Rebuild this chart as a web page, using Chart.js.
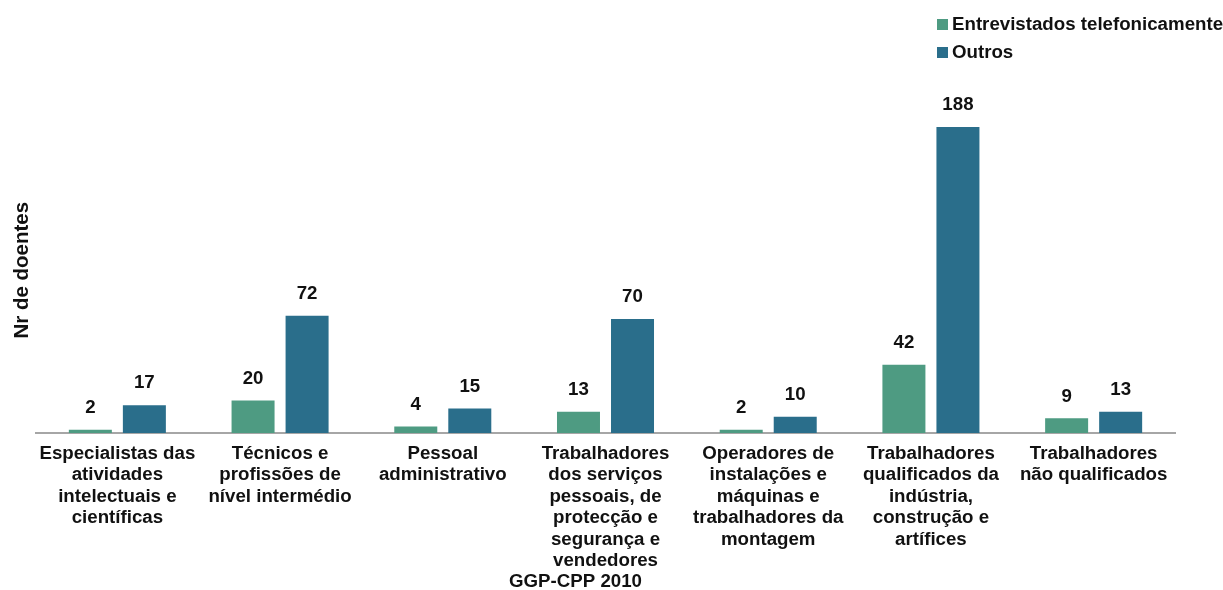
<!DOCTYPE html>
<html lang="pt">
<head>
<meta charset="utf-8">
<title>Nr de doentes por grupo profissional</title>
<script src="https://cdn.jsdelivr.net/npm/chart.js@4.4.1/dist/chart.umd.min.js"></script>
<style>
  html, body { margin: 0; padding: 0; background: #ffffff; }
  #wrap { position: relative; width: 1223px; height: 590px; }
</style>
</head>
<body>
<div id="wrap"><canvas id="chart" width="1223" height="590"></canvas></div>
<script>
// Occupational groups (multi-line tick labels)
const categories = [
  ['Especialistas das', 'atividades', 'intelectuais e', 'científicas'],
  ['Técnicos e', 'profissões de', 'nível intermédio'],
  ['Pessoal', 'administrativo'],
  ['Trabalhadores', 'dos serviços', 'pessoais, de', 'protecção e', 'segurança e', 'vendedores'],
  ['Operadores de', 'instalações e', 'máquinas e', 'trabalhadores da', 'montagem'],
  ['Trabalhadores', 'qualificados da', 'indústria,', 'construção e', 'artífices'],
  ['Trabalhadores', 'não qualificados']
];

const seriesNames = ['Entrevistados telefonicamente', 'Outros'];
const entrevistados = [2, 20, 4, 13, 2, 42, 9];
const outros = [17, 72, 15, 70, 10, 188, 13];

const yTitle = 'Nr de doentes';
const xTitle = 'GGP-CPP 2010';

const FONT = "'Liberation Sans', Arial, sans-serif";
const FS = 18.7;
const COLORS = ['#4e9b82', '#2a6e8b'];

// Value labels above each bar
const valueLabels = {
  id: 'valueLabels',
  afterDatasetsDraw(chart) {
    const ctx = chart.ctx;
    ctx.save();
    ctx.font = 'bold ' + FS + 'px ' + FONT;
    ctx.fillStyle = '#111111';
    ctx.textAlign = 'center';
    ctx.textBaseline = 'middle';
    chart.data.datasets.forEach((ds, i) => {
      const meta = chart.getDatasetMeta(i);
      meta.data.forEach((bar, j) => {
        ctx.fillText(String(ds.data[j]), bar.x, bar.y - 22);
      });
    });
    ctx.restore();
  }
};

// Vertical legend in the top-right corner
const stackedLegend = {
  id: 'stackedLegend',
  afterDraw(chart) {
    const ctx = chart.ctx;
    ctx.save();
    ctx.font = 'bold ' + FS + 'px ' + FONT;
    ctx.textAlign = 'left';
    ctx.textBaseline = 'middle';
    chart.data.datasets.forEach((ds, i) => {
      const cy = 25 + i * 28;
      ctx.fillStyle = ds.backgroundColor;
      ctx.fillRect(937, cy - 6, 11, 11);
      ctx.fillStyle = '#111111';
      ctx.fillText(ds.label, 952, cy);
    });
    ctx.restore();
  }
};

// Source caption under the category labels
const sourceCaption = {
  id: 'sourceCaption',
  afterDraw(chart) {
    const ctx = chart.ctx;
    const area = chart.chartArea;
    ctx.save();
    ctx.font = 'bold ' + FS + 'px ' + FONT;
    ctx.fillStyle = '#111111';
    ctx.textAlign = 'center';
    ctx.textBaseline = 'middle';
    ctx.fillText(xTitle, (area.left + area.right) / 2 - 30, 582);
    ctx.restore();
  }
};

new Chart(document.getElementById('chart'), {
  type: 'bar',
  data: {
    labels: categories,
    datasets: [
      { label: seriesNames[0], data: entrevistados, backgroundColor: COLORS[0] },
      { label: seriesNames[1], data: outros, backgroundColor: COLORS[1] }
    ]
  },
  options: {
    responsive: false,
    animation: false,
    devicePixelRatio: 1,
    categoryPercentage: 0.664,
    barPercentage: 0.796,
    layout: { padding: { top: 107.5, right: 48, bottom: 8, left: 8 } },
    plugins: {
      legend: { display: false },
      tooltip: { enabled: false }
    },
    scales: {
      x: {
        grid: { display: false, drawTicks: false },
        border: { display: true, color: '#a6a6a6', width: 2 },
        ticks: {
          autoSkip: false,
          maxRotation: 0,
          minRotation: 0,
          padding: 10,
          color: '#111111',
          font: { family: FONT, size: FS, weight: 'bold', lineHeight: '21.5px' }
        }
      },
      y: {
        min: 0,
        max: 200,
        grid: { display: false, drawTicks: false },
        border: { display: false },
        ticks: { display: false },
        title: {
          display: true,
          text: yTitle,
          color: '#111111',
          padding: { top: 2, bottom: 4 },
          font: { family: FONT, size: 20.5, weight: 'bold' }
        },
        afterFit(scale) { scale.width = 28; }
      }
    }
  },
  plugins: [valueLabels, stackedLegend, sourceCaption]
});
</script>
</body>
</html>
